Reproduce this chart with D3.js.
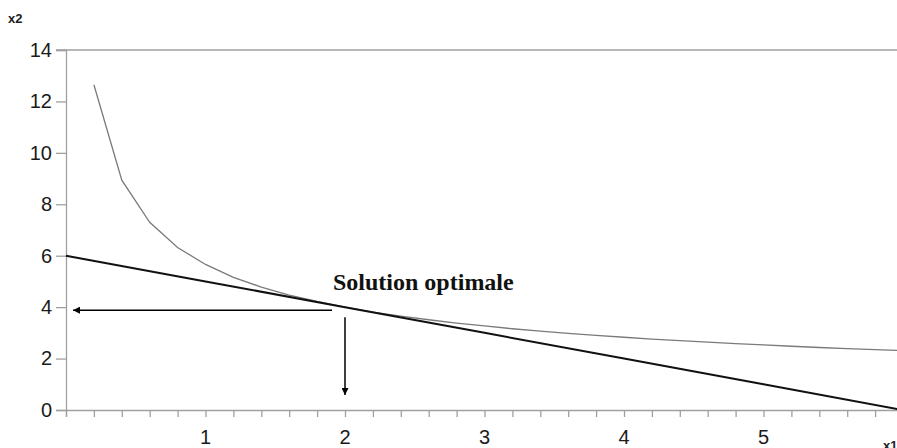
<!DOCTYPE html>
<html>
<head>
<meta charset="utf-8">
<script src="https://cdn.jsdelivr.net/npm/d3@7/dist/d3.min.js"></script>
<style>
  html, body { margin: 0; padding: 0; background: #fff; }
  svg { display: block; }
</style>
</head>
<body>
<svg id="chart" width="897" height="448"></svg>
<script>
// ---- data ----
const xValues = [0.2,0.4,0.6,0.8,1.0,1.2,1.4,1.6,1.8,2.0,2.2,2.4,2.6,2.8,3.0,3.2,3.4,3.6,3.8,4.0,4.2,4.4,4.6,4.8,5.0,5.2,5.4,5.6,5.8,6.0];
const curveValues = [12.65,8.94,7.30,6.32,5.66,5.16,4.78,4.47,4.22,4.00,3.81,3.65,3.51,3.38,3.27,3.16,3.07,2.98,2.90,2.83,2.76,2.70,2.64,2.58,2.53,2.48,2.43,2.39,2.35,2.31];
const lineX = [0, 1, 2, 3, 4, 5, 6];
const lineValues = [6, 5, 4, 3, 2, 1, 0];
const yTicks = [0, 2, 4, 6, 8, 10, 12, 14];
const xTickLabels = [1, 2, 3, 4, 5];
const minorTicks = [0,0.2,0.4,0.6,0.8,1,1.2,1.4,1.6,1.8,2,2.2,2.4,2.6,2.8,3,3.2,3.4,3.6,3.8,4,4.2,4.4,4.6,4.8,5,5.2,5.4,5.6,5.8,6];
const optimum = {x: 2, y: 4};
const annotation = "Solution optimale";

// ---- scales ----
const svg = d3.select("#chart");
const x = d3.scaleLinear().domain([0, 6]).range([66, 903]);
const y = d3.scaleLinear().domain([0, 14]).range([410, 50]);
const axisColor = "#a0a0a0";

// defs: arrowhead
svg.append("defs").append("marker")
  .attr("id", "arrow").attr("viewBox", "0 0 10 10")
  .attr("refX", 10).attr("refY", 5)
  .attr("markerWidth", 12).attr("markerHeight", 7)
  .attr("markerUnits", "userSpaceOnUse")
  .attr("orient", "auto")
  .append("path").attr("d", "M0,0 L10,5 L0,10 z").attr("fill", "#000");

// top border line
svg.append("line")
  .attr("x1", 56).attr("x2", 897)
  .attr("y1", y(14)).attr("y2", y(14))
  .attr("stroke", axisColor).attr("stroke-width", 1.3);

// y axis
const yAxis = d3.axisLeft(y).tickValues(yTicks).tickSize(10).tickPadding(4).tickFormat(d3.format("d"));
const gy = svg.append("g").attr("transform", `translate(${x(0)},0)`).call(yAxis);
gy.attr("font-size", 20);
gy.select(".domain").attr("stroke", axisColor).attr("stroke-width", 1.3);
gy.selectAll(".tick line").attr("stroke", axisColor).attr("stroke-width", 1.3);
gy.selectAll(".tick text")
  .style("font-family", "Liberation Sans, Arial, sans-serif")
  .style("font-size", "20px").attr("fill", "#1a1a1a");

// x axis (minor ticks)
const xAxis = d3.axisBottom(x).tickValues(minorTicks).tickSize(7).tickFormat("");
const gx = svg.append("g").attr("transform", `translate(0,${y(0)})`).call(xAxis);
gx.select(".domain").attr("stroke", axisColor).attr("stroke-width", 1.3);
gx.selectAll(".tick line").attr("stroke", axisColor).attr("stroke-width", 1.3);

// x tick labels
svg.append("g").selectAll("text").data(xTickLabels).join("text")
  .attr("x", d => x(d)).attr("y", 444)
  .attr("text-anchor", "middle")
  .style("font-family", "Liberation Sans, Arial, sans-serif")
  .style("font-size", "20px").attr("fill", "#1a1a1a")
  .text(d => d);

// axis titles
svg.append("text").attr("x", 8).attr("y", 23)
  .style("font-family", "Liberation Sans, Arial, sans-serif")
  .style("font-size", "13px").attr("font-weight", "bold").attr("fill", "#222")
  .text("x2");
svg.append("text").attr("x", 883).attr("y", 450)
  .style("font-family", "Liberation Sans, Arial, sans-serif")
  .style("font-size", "13px").attr("font-weight", "bold").attr("fill", "#222")
  .text("x1");

// grey curve
const curveData = xValues.map((d, i) => [d, curveValues[i]]);
svg.append("path").datum(curveData)
  .attr("fill", "none").attr("stroke", "#7a7a7a").attr("stroke-width", 1.3)
  .attr("d", d3.line().x(d => x(d[0])).y(d => y(d[1])));

// black line
const lineData = lineX.map((d, i) => [d, lineValues[i]]);
svg.append("path").datum(lineData)
  .attr("fill", "none").attr("stroke", "#111").attr("stroke-width", 2)
  .attr("d", d3.line().x(d => x(d[0])).y(d => y(d[1])));

// arrows
svg.append("line")
  .attr("x1", x(optimum.x) - 13).attr("y1", y(optimum.y) + 3)
  .attr("x2", x(0) + 7).attr("y2", y(optimum.y) + 3)
  .attr("stroke", "#000").attr("stroke-width", 1.5)
  .attr("marker-end", "url(#arrow)");
svg.append("line")
  .attr("x1", x(optimum.x)).attr("y1", y(optimum.y) + 10)
  .attr("x2", x(optimum.x)).attr("y2", y(0) - 15)
  .attr("stroke", "#000").attr("stroke-width", 1.5)
  .attr("marker-end", "url(#arrow)");

// annotation
svg.append("text")
  .attr("x", 333).attr("y", 290)
  .style("font-family", "Liberation Serif, Times New Roman, serif")
  .style("font-size", "24px").attr("font-weight", "bold").attr("fill", "#111")
  .text(annotation);
</script>
</body>
</html>
